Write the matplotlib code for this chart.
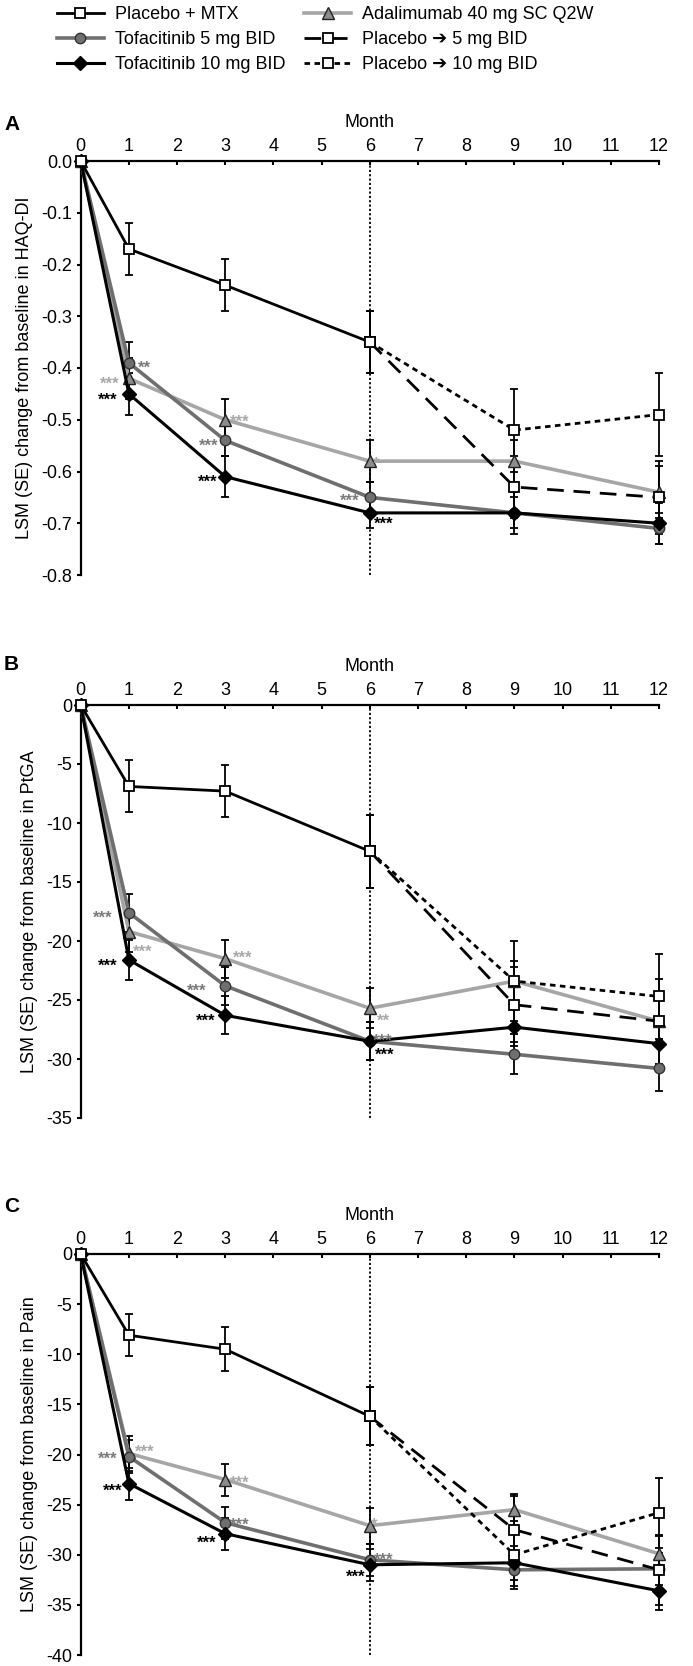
import numpy as np
import matplotlib
matplotlib.use("Agg")
import matplotlib.pyplot as plt
from matplotlib.lines import Line2D

plt.rcParams['font.family'] = ['Liberation Sans', 'DejaVu Sans']
plt.rcParams['axes.unicode_minus'] = False

""" Data """
months = [0, 1, 3, 6, 9, 12]
pbo_months = [0, 1, 3, 6]
switch_months = [6, 9, 12]

# HAQ-DI
haq_pbo = [0.0, -0.17, -0.24, -0.35]
haq_pbo_se = [0.0, 0.05, 0.05, 0.06]
haq_tofa5 = [0.0, -0.39, -0.54, -0.65, -0.68, -0.71]
haq_tofa5_se = [0.0, 0.04, 0.03, 0.03, 0.03, 0.03]
haq_tofa10 = [0.0, -0.45, -0.61, -0.68, -0.68, -0.70]
haq_tofa10_se = [0.0, 0.04, 0.04, 0.03, 0.04, 0.04]
haq_ada = [0.0, -0.42, -0.50, -0.58, -0.58, -0.64]
haq_ada_se = [0.0, 0.04, 0.04, 0.04, 0.04, 0.05]
haq_pbo5 = [-0.35, -0.63, -0.65]
haq_pbo5_se = [0.06, 0.06, 0.07]
haq_pbo10 = [-0.35, -0.52, -0.49]
haq_pbo10_se = [0.06, 0.08, 0.08]

# PtGA
ptga_pbo = [0.0, -6.9, -7.3, -12.4]
ptga_pbo_se = [0.0, 2.2, 2.2, 3.1]
ptga_tofa5 = [0.0, -17.6, -23.8, -28.5, -29.6, -30.8]
ptga_tofa5_se = [0.0, 1.6, 1.6, 1.6, 1.7, 1.9]
ptga_tofa10 = [0.0, -21.6, -26.3, -28.5, -27.3, -28.7]
ptga_tofa10_se = [0.0, 1.7, 1.6, 1.6, 1.6, 1.7]
ptga_ada = [0.0, -19.2, -21.5, -25.7, -23.4, -26.8]
ptga_ada_se = [0.0, 1.7, 1.6, 1.7, 1.7, 1.9]
ptga_pbo5 = [-12.4, -25.4, -26.8]
ptga_pbo5_se = [3.1, 3.2, 3.6]
ptga_pbo10 = [-12.4, -23.4, -24.7]
ptga_pbo10_se = [3.1, 3.4, 3.6]

# Pain
pain_pbo = [0.0, -8.1, -9.5, -16.2]
pain_pbo_se = [0.0, 2.1, 2.2, 2.9]
pain_tofa5 = [0.0, -20.2, -26.8, -30.5, -31.5, -31.4]
pain_tofa5_se = [0.0, 1.6, 1.6, 1.6, 1.6, 1.6]
pain_tofa10 = [0.0, -22.9, -27.9, -31.0, -30.8, -33.6]
pain_tofa10_se = [0.0, 1.6, 1.6, 1.6, 1.7, 1.9]
pain_ada = [0.0, -19.9, -22.5, -27.1, -25.5, -29.9]
pain_ada_se = [0.0, 1.7, 1.6, 1.8, 1.6, 1.8]
pain_pbo5 = [-16.2, -27.5, -31.5]
pain_pbo5_se = [2.9, 3.4, 3.5]
pain_pbo10 = [-16.2, -30.0, -25.8]
pain_pbo10_se = [2.9, 3.4, 3.5]

labels = ["Placebo + MTX", "Tofacitinib 5 mg BID", "Tofacitinib 10 mg BID",
          "Adalimumab 40 mg SC Q2W", "Placebo \u2794 5 mg BID", "Placebo \u2794 10 mg BID"]

# significance marks: (series, month, text, dx px, dy px)
haq_stars = [("tofa5", 1, "**", 9, 0), ("ada", 1, "***", -9, 0), ("tofa10", 1, "***", -11, 0),
             ("ada", 3, "***", 5, 3), ("tofa5", 3, "***", -7, 0), ("tofa10", 3, "***", -8, 0),
             ("ada", 6, "*", 3, 3), ("tofa5", 6, "***", -10, 2), ("tofa10", 6, "***", 4, -5)]
ptga_stars = [("tofa5", 1, "***", -16, 0), ("ada", 1, "***", 4, -15), ("tofa10", 1, "***", -11, 0),
              ("ada", 3, "***", 8, 6), ("tofa5", 3, "***", -19, 0), ("tofa10", 3, "***", -10, 0),
              ("ada", 6, "**", 7, -7), ("tofa5", 6, "***", 3, 6), ("tofa10", 6, "***", 5, -8)]
pain_stars = [("tofa5", 1, "***", -11, 3), ("ada", 1, "***", 6, 7), ("tofa10", 1, "***", -6, -2),
              ("ada", 3, "***", 5, 2), ("tofa5", 3, "***", 5, 3), ("tofa10", 3, "***", -9, -4),
              ("ada", 6, "*", 1, 6), ("tofa5", 6, "***", 4, 5), ("tofa10", 6, "***", -4, -7)]

""" Styles """
C_T5 = "#6f6f6f"
C_ADA = "#a6a6a6"
star_col = {"tofa5": "#7a7a7a", "ada": "#a8a8a8", "tofa10": "black"}
sty = {
    "pbo": dict(color="black", lw=2, marker="s", ms=7.5, mfc="white", mec="black", mew=1.3, zorder=6),
    "tofa5": dict(color=C_T5, lw=2.6, marker="o", ms=7.5, mfc=C_T5, mec="#333333", mew=1.0, zorder=4),
    "tofa10": dict(color="black", lw=2.2, marker="D", ms=7, mfc="black", mec="black", zorder=5),
    "ada": dict(color=C_ADA, lw=2.6, marker="^", ms=8, mfc="#8c8c8c", mec="#222222", mew=1.0, zorder=3),
    "pbo5": dict(color="black", lw=2, ls=(0, (6, 3.5)), marker="s", ms=7.5, mfc="white", mec="black", mew=1.3, zorder=6),
    "pbo10": dict(color="black", lw=2, ls=(0, (2, 1.6)), marker="s", ms=7.5, mfc="white", mec="black", mew=1.3, zorder=6),
}


def panel(ax, d, ylim, yticks, yfmt, ylabel, stars):
    ax.axvline(6, color="black", ls=(0, (1.2, 1.2)), lw=1.3, zorder=1)
    sets = [("pbo", pbo_months), ("pbo5", switch_months), ("pbo10", switch_months),
            ("tofa5", months), ("tofa10", months), ("ada", months)]
    for key, xs in sets:
        ax.errorbar(xs, d[key], yerr=d[key + "_se"], fmt="none", ecolor="black",
                    elinewidth=1.3, capsize=3, capthick=1.3, zorder=2, clip_on=False)
    for key, xs in sets:
        ax.plot(xs, d[key], clip_on=False, **sty[key])
    for key, m, txt, dx, dy in stars:
        ax.annotate(txt, (m, d[key][months.index(m)]),
                    xytext=(dx * 0.72, dy * 0.72 - 7.5), textcoords="offset points",
                    ha="left" if dx > 0 else "right", va="baseline",
                    fontsize=12, fontweight="bold", color=star_col[key], zorder=8)
    ax.set_xlim(0, 12)
    ax.set_ylim(*ylim)
    ax.set_xticks(range(13))
    ax.set_yticks(yticks)
    ax.set_yticklabels([yfmt.format(v) for v in yticks])
    ax.xaxis.tick_top()
    ax.xaxis.set_label_position("top")
    ax.set_xlabel("Month", fontsize=13, labelpad=8)
    ax.set_ylabel(ylabel, fontsize=13, labelpad=6)
    ax.spines["right"].set_visible(False)
    ax.spines["bottom"].set_visible(False)
    ax.spines["top"].set_linewidth(1.6)
    ax.spines["left"].set_linewidth(1.6)
    ax.tick_params(axis="x", direction="in", length=3, width=1.5, labelsize=13, pad=4)
    ax.tick_params(axis="y", direction="out", length=3, width=1.5, labelsize=13, pad=3)


W, H = 693, 1666
fig = plt.figure(figsize=(W / 100, H / 100), dpi=100)

haq = dict(pbo=haq_pbo, pbo_se=haq_pbo_se, tofa5=haq_tofa5, tofa5_se=haq_tofa5_se,
           tofa10=haq_tofa10, tofa10_se=haq_tofa10_se, ada=haq_ada, ada_se=haq_ada_se,
           pbo5=haq_pbo5, pbo5_se=haq_pbo5_se, pbo10=haq_pbo10, pbo10_se=haq_pbo10_se)
ptga = dict(pbo=ptga_pbo, pbo_se=ptga_pbo_se, tofa5=ptga_tofa5, tofa5_se=ptga_tofa5_se,
            tofa10=ptga_tofa10, tofa10_se=ptga_tofa10_se, ada=ptga_ada, ada_se=ptga_ada_se,
            pbo5=ptga_pbo5, pbo5_se=ptga_pbo5_se, pbo10=ptga_pbo10, pbo10_se=ptga_pbo10_se)
pain = dict(pbo=pain_pbo, pbo_se=pain_pbo_se, tofa5=pain_tofa5, tofa5_se=pain_tofa5_se,
            tofa10=pain_tofa10, tofa10_se=pain_tofa10_se, ada=pain_ada, ada_se=pain_ada_se,
            pbo5=pain_pbo5, pbo5_se=pain_pbo5_se, pbo10=pain_pbo10, pbo10_se=pain_pbo10_se)

left, right = 80.7, 659
axA = fig.add_axes([left / W, 1 - 575 / H, (right - left) / W, (575 - 161) / H])
axB = fig.add_axes([left / W, 1 - 1118 / H, (right - left) / W, (1118 - 705) / H])
axC = fig.add_axes([left / W, 1 - 1655 / H, (right - left) / W, (1655 - 1254) / H])

panel(axA, haq, (-0.8, 0), np.round(np.arange(0, -0.81, -0.1), 1), "{:.1f}",
      "LSM (SE) change from baseline in HAQ-DI", haq_stars)
panel(axB, ptga, (-35, 0), range(0, -36, -5), "{:d}",
      "LSM (SE) change from baseline in PtGA", ptga_stars)
panel(axC, pain, (-40, 0), range(0, -41, -5), "{:d}",
      "LSM (SE) change from baseline in Pain", pain_stars)

for letter, y in [("A", 125), ("B", 664), ("C", 1206)]:
    fig.text(4 / W, 1 - y / H, letter, fontsize=15, fontweight="bold", va="center", ha="left")

handles = [Line2D([], [], **sty[k]) for k in ["pbo", "tofa5", "tofa10", "ada", "pbo5", "pbo10"]]
fig.legend(handles, labels, loc="upper left", bbox_to_anchor=(57 / W, 1 - 6 / H), ncol=2,
           frameon=False, fontsize=13, handlelength=2.6, handletextpad=0.6,
           columnspacing=1.05, labelspacing=0.45, borderpad=0, borderaxespad=0)

fig.savefig("out.png", dpi=100)
